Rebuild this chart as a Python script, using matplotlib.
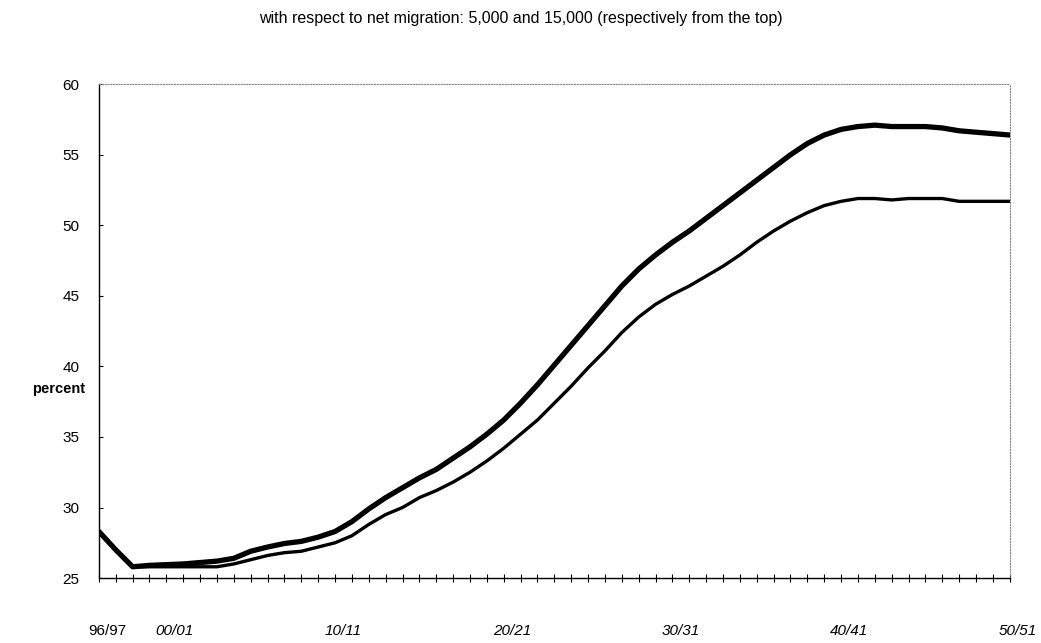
import numpy as np
import matplotlib.pyplot as plt
from matplotlib.transforms import ScaledTranslation

plt.rcParams["font.family"] = ["Liberation Sans", "DejaVu Sans"]

# years 1996/97 .. 2050/51
years = list(range(1996, 2051))
tick_years = [1996, 2000, 2010, 2020, 2030, 2040, 2050]
tick_labels = ["96/97", "00/01", "10/11", "20/21", "30/31", "40/41", "50/51"]

# net migration 5,000 (top curve)
upper = [28.3, 27.0, 25.8, 25.9, 25.95, 26.0, 26.1, 26.2, 26.4, 26.9,
         27.2, 27.45, 27.6, 27.9, 28.3, 29.0, 29.9, 30.7, 31.4, 32.1,
         32.7, 33.5, 34.3, 35.2, 36.2, 37.4, 38.7, 40.1, 41.5, 42.9,
         44.3, 45.7, 46.9, 47.9, 48.8, 49.6, 50.5, 51.4, 52.3, 53.2,
         54.1, 55.0, 55.8, 56.4, 56.8, 57.0, 57.1, 57.0, 57.0, 57.0,
         56.9, 56.7, 56.6, 56.5, 56.4]
# net migration 15,000 (bottom curve)
lower = [28.3, 27.0, 25.8, 25.8, 25.8, 25.8, 25.8, 25.8, 26.0, 26.3,
         26.6, 26.8, 26.9, 27.2, 27.5, 28.0, 28.8, 29.5, 30.0, 30.7,
         31.2, 31.8, 32.5, 33.3, 34.2, 35.2, 36.2, 37.4, 38.6, 39.9,
         41.1, 42.4, 43.5, 44.4, 45.1, 45.7, 46.4, 47.1, 47.9, 48.8,
         49.6, 50.3, 50.9, 51.4, 51.7, 51.9, 51.9, 51.8, 51.9, 51.9,
         51.9, 51.7, 51.7, 51.7, 51.7]

fig = plt.figure(figsize=(10.41, 6.43), dpi=100)
ax = fig.add_axes([0.095, 0.101, 0.875, 0.768])

ax.plot(years, upper, color="black", lw=3.8, solid_capstyle="round")
ax.plot(years, lower, color="black", lw=2.4, solid_capstyle="round")

ax.set_xlim(1996, 2050)
ax.set_ylim(25, 60)
ax.set_yticks(range(25, 61, 5))
ax.set_xticks(tick_years)
ax.set_xticklabels(tick_labels, fontsize=11, style="italic")
ax.set_xticks(years, minor=True)
ax.tick_params(axis="x", which="both", direction="inout", length=6, width=0.8, pad=30)
ax.tick_params(axis="y", direction="in", length=3, width=0.8, pad=14, labelsize=11)

offset = ScaledTranslation(8 / 100, 0, fig.dpi_scale_trans)
for lab in ax.get_xticklabels():
    lab.set_transform(lab.get_transform() + offset)
ax.get_xticklabels()[0].set_style("normal")

for side in ["top", "right"]:
    ax.spines[side].set_linestyle((0, (1, 1.5)))
    ax.spines[side].set_color("#888888")
    ax.spines[side].set_linewidth(0.8)
ax.spines["left"].set_linewidth(1.0)
ax.spines["bottom"].set_linewidth(1.0)

ax.set_ylabel("percent", rotation=0, fontsize=10.5, fontweight="bold", ha="right", va="center")
ax.yaxis.set_label_coords(-0.015, 0.383)

fig.text(0.5, 1 - 18 / 643, "with respect to net migration: 5,000 and 15,000 (respectively from the top)",
         ha="center", va="center", fontsize=11.5)

fig.savefig("out.png", dpi=100)
